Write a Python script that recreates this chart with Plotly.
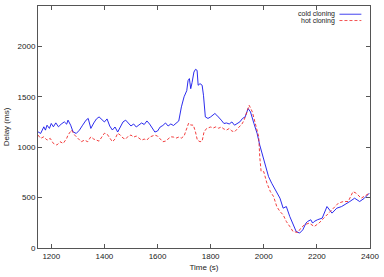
import plotly.graph_objects as go

cold_t = [1150, 1160, 1172, 1178, 1184, 1193, 1200, 1208, 1217, 1227, 1237, 1249, 1258, 1263, 1273,
          1282, 1294, 1306, 1318, 1331, 1339, 1349, 1360, 1370, 1380, 1390, 1400, 1410, 1420, 1430, 1440,
          1450, 1460, 1470, 1480, 1490, 1500, 1510, 1520, 1530, 1540, 1550, 1560, 1570, 1580, 1590,
          1600, 1610, 1620, 1630, 1640, 1650, 1660, 1670, 1680, 1690, 1700, 1710, 1715, 1720, 1725,
          1730, 1737, 1743, 1749, 1753, 1760, 1768, 1773, 1780, 1790, 1800, 1810, 1816, 1823, 1830,
          1840, 1850, 1860, 1870, 1880, 1890, 1900, 1910, 1920, 1930, 1941, 1950, 1963, 1975, 1985,
          1993, 2006, 2018, 2030, 2043, 2061, 2073, 2085, 2098, 2110, 2122, 2135, 2147, 2159, 2165,
          2177, 2184, 2190, 2202, 2220, 2238, 2257, 2275, 2293, 2305, 2324, 2342, 2361, 2379, 2397]
cold_v = [1152, 1136, 1202, 1169, 1218, 1186, 1235, 1202, 1241, 1202, 1228, 1251, 1228, 1268, 1218,
          1152, 1136, 1169, 1218, 1268, 1285, 1186, 1240, 1280, 1300, 1270, 1250, 1280, 1210, 1170, 1200,
          1150, 1200, 1250, 1268, 1240, 1210, 1230, 1200, 1220, 1240, 1225, 1260, 1230, 1190, 1150,
          1160, 1200, 1215, 1240, 1210, 1230, 1215, 1235, 1260, 1400, 1500, 1560, 1660, 1680, 1580,
          1640, 1745, 1772, 1762, 1614, 1630, 1614, 1515, 1300, 1285, 1300, 1320, 1334, 1317, 1300,
          1268, 1235, 1240, 1230, 1250, 1218, 1235, 1251, 1285, 1300, 1383, 1350, 1235, 1136, 1020,
          939, 806, 708, 642, 576, 494, 395, 411, 312, 230, 164, 148, 180, 247, 263,
          280, 247, 263, 280, 296, 411, 346, 395, 411, 428, 461, 494, 461, 494, 543]

hot_t = [1150, 1160, 1172, 1184, 1196, 1208, 1221, 1233, 1245, 1258, 1263, 1276, 1288, 1300, 1313,
         1325, 1337, 1349, 1360, 1370, 1380, 1390, 1400, 1410, 1420, 1430, 1440,
         1450, 1460, 1470, 1480, 1490, 1500, 1510, 1520, 1530, 1540, 1550, 1560, 1570, 1580, 1590,
         1600, 1610, 1620, 1630, 1640, 1650, 1660, 1670, 1680, 1690, 1700, 1710, 1717, 1725, 1735,
         1743, 1750, 1760, 1768, 1775, 1785, 1800, 1810, 1820, 1830, 1840, 1850, 1860, 1870, 1880,
         1890, 1900, 1908, 1918, 1926, 1938, 1945, 1957, 1969, 1981, 1985, 1990, 2000, 2012, 2025,
         2037, 2049, 2061, 2073, 2085, 2098, 2110, 2128, 2140, 2153, 2171, 2190, 2208, 2226, 2245,
         2263, 2281, 2300, 2318, 2336, 2348, 2367, 2385, 2397]
hot_v = [1120, 1087, 1103, 1070, 1087, 1037, 1021, 1054, 1037, 1087, 1120, 1169, 1120, 1087, 1054,
         1070, 1054, 1103, 1080, 1070, 1060, 1100, 1138, 1130, 1090, 1054, 1080,
         1138, 1120, 1090, 1080, 1110, 1120, 1100, 1110, 1090, 1070, 1080, 1070, 1100, 1110, 1120,
         1110, 1080, 1054, 1060, 1080, 1103, 1100, 1090, 1100, 1090, 1110, 1200, 1238, 1220, 1218,
         1150, 1070, 1054, 1060, 1150, 1186, 1200, 1190, 1202, 1188, 1200, 1180, 1170, 1185, 1160,
         1152, 1180, 1202, 1230, 1268, 1367, 1416, 1350, 1235, 1103, 900, 760, 757, 642, 559,
         510, 411, 362, 329, 263, 213, 164, 154, 198, 230, 247, 213, 247, 296, 346,
         395, 445, 461, 461, 559, 543, 494, 527, 543]

x_ticks = [1200, 1400, 1600, 1800, 2000, 2200, 2400]
y_ticks = [0, 500, 1000, 1500, 2000]
series_names = ["cold cloning", "hot cloning"]

BLUE = "rgb(20,20,235)"
RED = "rgb(240,40,40)"
FONT = "Liberation Sans"
TXT = "#222222"

fig = go.Figure()
fig.add_trace(go.Scatter(x=cold_t, y=cold_v, mode="lines", name=series_names[0],
                         line=dict(color=BLUE, width=0.9)))
fig.add_trace(go.Scatter(x=hot_t, y=hot_v, mode="lines", name=series_names[1],
                         line=dict(color=RED, width=0.9, dash="3px,2px")))

axis_common = dict(showgrid=False, zeroline=False, showline=True, linecolor="#555555",
                   linewidth=1, mirror="ticks", ticks="inside", ticklen=4, tickcolor="#555555",
                   tickfont=dict(family=FONT, size=8, color=TXT))

fig.update_xaxes(range=[1150, 2400], tickvals=x_ticks, ticklabeloverflow="allow",
                 title=dict(text="Time (s)", font=dict(family=FONT, size=8, color=TXT), standoff=4),
                 **axis_common)
fig.update_yaxes(range=[0, 2400], tickvals=y_ticks,
                 title=dict(text="Delay (ms)", font=dict(family=FONT, size=8, color=TXT), standoff=6),
                 **axis_common)

# legend (text left of sample, gnuplot style)
for i, (name, col, dash) in enumerate([(series_names[0], BLUE, "solid"), (series_names[1], RED, "3px,2px")]):
    yy = 0.966 - i * 0.026
    fig.add_annotation(x=0.897, y=yy, xref="paper", yref="paper", text=name, showarrow=False,
                       xanchor="right", yanchor="middle", borderpad=0,
                       font=dict(family=FONT, size=7, color=TXT))
    fig.add_shape(type="line", xref="paper", yref="paper", x0=0.908, x1=0.974, y0=yy, y1=yy,
                  line=dict(color=col, width=0.8, dash=dash))

fig.update_layout(width=384, height=277, margin=dict(l=38, r=6, t=5, b=29),
                  plot_bgcolor="white", paper_bgcolor="white", showlegend=False,
                  font=dict(family=FONT, size=8))

fig.write_html("out.html")
